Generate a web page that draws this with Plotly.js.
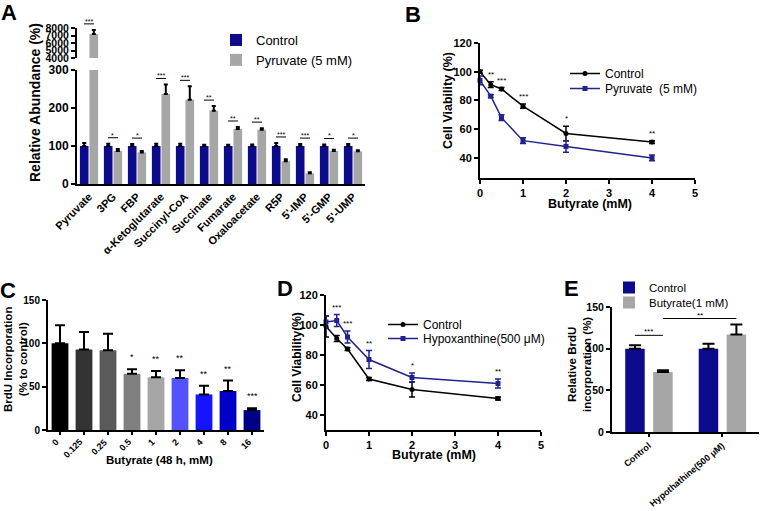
<!DOCTYPE html>
<html>
<head>
<meta charset="utf-8">
<script src="https://cdn.plot.ly/plotly-3.0.1.min.js"></script>
<style>body{margin:0;background:#fff;} #fig{width:760px;height:511px;}</style>
</head>
<body>
<div id="fig"></div>
<script>
// ---- Panel A: metabolite abundance ----
var metabolites = ["Pyruvate", "3PG", "FBP", "α-Ketoglutarate", "Succinyl-CoA", "Succinate",
                   "Fumarate", "Oxaloacetate", "R5P", "5'-IMP", "5'-GMP", "5'-UMP"];
var ctrlAbund = [100, 100, 100, 100, 100, 100, 100, 100, 100, 100, 100, 100];
var ctrlAbundErr = [8, 6, 5, 6, 6, 3, 3, 4, 8, 5, 4, 5];
var pyrAbund = [7200, 87, 83, 237, 222, 193, 145, 143, 60, 28, 87, 86];
var pyrAbundErr = [550, 5, 4, 25, 35, 12, 5, 4, 5, 3, 3, 3];
var sigA = ["***", "*", "*", "***", "***", "**", "**", "**", "***", "***", "*", "*"];
var ticksALow = [0, 100, 200, 300];
var ticksAHigh = [4000, 5000, 6000, 7000, 8000];

// ---- Panel B: viability with pyruvate ----
var butyrateB = [0, 0.25, 0.5, 1, 2, 4];
var ctrlViabB = [100, 91, 88, 76, 57, 51];
var ctrlViabBErr = [1, 2, 1, 1.5, 5, 1];
var pyrViabB = [94, 83, 68, 52, 48, 40];
var pyrViabBErr = [3, 1, 2, 2, 4, 2];
var sigB = ["", "**", "***", "***", "*", "**"];

// ---- Panel C: BrdU vs butyrate dose ----
var doseC = ["0", "0.125", "0.25", "0.5", "1", "2", "4", "8", "16"];
var brduC = [100, 93, 92, 65, 61, 60, 41, 45, 23];
var brduCErr = [21, 20, 19, 5, 7, 9, 10, 12, 2];
var sigC = ["", "", "", "*", "**", "**", "**", "**", "***"];
var colorsC = ["#000000", "#333333", "#5a5a5a", "#808080", "#a6a6a6", "#5252ff", "#1414ff", "#0000c8", "#000084"];

// ---- Panel D: viability with hypoxanthine ----
var butyrateD = [0, 0.25, 0.5, 1, 2, 4];
var ctrlViabD = [99, 91, 84, 64, 57, 51];
var ctrlViabDErr = [7, 2, 1, 1, 5, 1];
var hypoViabD = [102, 103, 92, 77, 65, 61];
var hypoViabDErr = [4, 4, 4, 6, 3, 3];
var sigD = ["", "***", "***", "**", "*", "**"];

// ---- Panel E: BrdU with hypoxanthine ----
var groupsE = ["Control", "Hypothathine(500 μM)"];
var ctrlBrduE = [100, 100];
var ctrlBrduEErr = [4, 6];
var butBrduE = [72, 117];
var butBrduEErr = [2, 12];

var NAVY = "#0b0b8c", GREY = "#a6a6a6", LINE_NAVY = "#22228e";
var FONT = "Liberation Sans, Arial, sans-serif";
var W = 760, H = 511;

// panel boxes in pixels
function domX(a, b) { return [a / W, b / W]; }
function domY(bottom, top) { return [1 - bottom / H, 1 - top / H]; }
function toPaper(v, dom, rng) { return dom[0] + (v - rng[0]) / (rng[1] - rng[0]) * (dom[1] - dom[0]); }

var A = {x: domX(77, 365), yLow: domY(184, 70), yHigh: domY(58, 28), xr: [-0.5, 11.5], rLow: [0, 300], rHigh: [4000, 8000]};
var B = {x: domX(480, 695), y: domY(178, 43), xr: [0, 5], yr: [26, 120]};
var C = {x: domX(48, 264), y: domY(430, 300), xr: [-0.5, 8.5], yr: [0, 150]};
var D = {x: domX(326, 541), y: domY(430, 295), xr: [0, 5], yr: [30, 120]};
var E = {x: domX(612, 759), y: domY(432, 307), xr: [-0.5, 1.5], yr: [0, 150]};

// dose labels are numeric strings, so place them by index on a linear axis
var doseIdx = doseC.map(function (d, i) { return i; });

function upErr(arr, th, w) {
  return {type: "data", array: arr, symmetric: false, arrayminus: arr.map(function () { return 0; }),
          color: "#000", thickness: th, width: w};
}
function symErr(arr, col) {
  return {type: "data", array: arr, color: col, thickness: 1.5, width: 3};
}

var data = [
  // A
  {type: "bar", x: metabolites, y: ctrlAbund, name: "Control", marker: {color: NAVY},
   width: 0.36, offset: -0.38, error_y: upErr(ctrlAbundErr, 2, 2), xaxis: "x", yaxis: "y", legend: "legend"},
  {type: "bar", x: metabolites, y: pyrAbund, name: "Pyruvate (5 mM)", marker: {color: GREY},
   width: 0.36, offset: 0.02, error_y: upErr(pyrAbundErr, 2, 2), xaxis: "x", yaxis: "y", legend: "legend"},
  {type: "bar", x: metabolites, y: pyrAbund, name: "Pyruvate (5 mM)", marker: {color: GREY}, showlegend: false,
   width: 0.36, offset: 0.02, error_y: upErr(pyrAbundErr, 2, 2), xaxis: "x", yaxis: "y2"},
  // B
  {type: "scatter", mode: "lines+markers", x: butyrateB, y: ctrlViabB, name: "Control",
   line: {color: "#000", width: 1.5}, marker: {color: "#000", size: 5, symbol: "circle"},
   error_y: symErr(ctrlViabBErr, "#000"), cliponaxis: false, xaxis: "x2", yaxis: "y3", legend: "legend2"},
  {type: "scatter", mode: "lines+markers", x: butyrateB, y: pyrViabB, name: "Pyruvate  (5 mM)",
   line: {color: LINE_NAVY, width: 1.5}, marker: {color: LINE_NAVY, size: 5, symbol: "square"},
   error_y: symErr(pyrViabBErr, LINE_NAVY), cliponaxis: false, xaxis: "x2", yaxis: "y3", legend: "legend3"},
  // C
  {type: "bar", x: doseIdx, y: brduC, marker: {color: colorsC}, width: 0.7, showlegend: false,
   error_y: upErr(brduCErr, 2, 5), xaxis: "x3", yaxis: "y4"},
  // D
  {type: "scatter", mode: "lines+markers", x: butyrateD, y: ctrlViabD, name: "Control",
   line: {color: "#000", width: 1.5}, marker: {color: "#000", size: 5, symbol: "circle"},
   error_y: symErr(ctrlViabDErr, "#000"), cliponaxis: false, xaxis: "x4", yaxis: "y5", legend: "legend4"},
  {type: "scatter", mode: "lines+markers", x: butyrateD, y: hypoViabD, name: "Hypoxanthine(500 μM)",
   line: {color: LINE_NAVY, width: 1.5}, marker: {color: LINE_NAVY, size: 5, symbol: "square"},
   error_y: symErr(hypoViabDErr, LINE_NAVY), cliponaxis: false, xaxis: "x4", yaxis: "y5", legend: "legend5"},
  // E
  {type: "bar", x: groupsE, y: ctrlBrduE, name: "Control", marker: {color: NAVY},
   width: 0.265, offset: -0.32, error_y: upErr(ctrlBrduEErr, 2, 6), xaxis: "x5", yaxis: "y6", legend: "legend6"},
  {type: "bar", x: groupsE, y: butBrduE, name: "Butyrate(1 mM)", marker: {color: GREY},
   width: 0.265, offset: 0.06, error_y: upErr(butBrduEErr, 2, 6), xaxis: "x5", yaxis: "y6", legend: "legend7"}
];

var annotations = [], shapes = [];
function label(text, px, py, size, angle) {
  annotations.push({text: text, x: px / W, y: 1 - py / H, xref: "paper", yref: "paper",
    xanchor: "center", yanchor: "middle", showarrow: false, textangle: angle || 0,
    font: {family: FONT, size: size, color: "#000", weight: "bold"}});
}
function star(text, xp, yp, size) {
  annotations.push({text: text, x: xp, y: yp, xref: "paper", yref: "paper", xanchor: "center",
    yanchor: "bottom", yshift: -3, showarrow: false, font: {family: FONT, size: size || 8, color: "#000"}});
}
function bar(x0, x1, yp) {
  shapes.push({type: "line", xref: "paper", yref: "paper", x0: x0, x1: x1, y0: yp, y1: yp,
    line: {color: "#000", width: 1}});
}

// panel letters
label("A", 9, 12, 22); label("B", 413, 14, 22); label("C", 8, 290, 22);
label("D", 285, 288, 22); label("E", 571, 288, 22);

// axis titles
label("Relative Abundance (%)", 35, 103, 14, -90);
label("Cell Viability (%)", 448, 100, 12.5, -90);
label("Butyrate (mM)", 590, 204, 12.5);
label("BrdU Incorporation<br>(% to control)", 15, 360, 11.5, -90);
label("Butyrate (48 h, mM)", 159, 460, 11.5);
label("Cell Viability(%)", 297, 357, 12, -90);
label("Butyrate (mM)", 434, 455, 12.5);
label("Relative BrdU<br>incorporation (%)", 579, 365, 11.5, -90);

// slanted dose labels under panel C
doseC.forEach(function (d, i) {
  annotations.push({text: d, x: toPaper(i, C.x, C.xr), y: C.y[0], xref: "paper", yref: "paper",
    xanchor: "right", yanchor: "top", xshift: 4, yshift: -4, textangle: -45, showarrow: false,
    font: {family: FONT, size: 9, color: "#000", weight: "bold"}});
});

// significance marks, panel A
metabolites.forEach(function (m, i) {
  var top = Math.max(ctrlAbund[i] + ctrlAbundErr[i], pyrAbund[i] + pyrAbundErr[i]);
  var yp = top > 300 ? toPaper(top, A.yHigh, A.rHigh) : toPaper(top, A.yLow, A.rLow);
  yp += 6 / H;
  var xc = toPaper(i, A.x, A.xr);
  bar(xc - 5 / W, xc + 5 / W, yp);
  star(sigA[i], xc, yp, 7);
});
// panel B / D: above the higher series
butyrateB.forEach(function (b, i) {
  if (!sigB[i]) return;
  var top = ctrlViabB[i] + ctrlViabBErr[i];
  star(sigB[i], toPaper(b, B.x, B.xr), toPaper(top, B.y, B.yr) + 4 / H, 8);
});
butyrateD.forEach(function (b, i) {
  if (!sigD[i]) return;
  var top = Math.max(ctrlViabD[i] + ctrlViabDErr[i], hypoViabD[i] + hypoViabDErr[i]);
  star(sigD[i], toPaper(b, D.x, D.xr), toPaper(top, D.y, D.yr) + 4 / H, 8);
});
// panel C
doseC.forEach(function (d, i) {
  if (!sigC[i]) return;
  var top = brduC[i] + brduCErr[i];
  star(sigC[i], toPaper(i, C.x, C.xr), toPaper(top, C.y, C.yr) + 8 / H, 9);
});
// panel E: between bar centres
var cNavy = toPaper(0 - 0.32 + 0.1325, E.x, E.xr), cGrey = toPaper(0 + 0.06 + 0.1325, E.x, E.xr);
var hGrey = toPaper(1 + 0.06 + 0.1325, E.x, E.xr);
var y1 = toPaper(Math.max(ctrlBrduE[0] + ctrlBrduEErr[0], butBrduE[0] + butBrduEErr[0]), E.y, E.yr) + 10 / H;
var y2 = toPaper(butBrduE[1] + butBrduEErr[1], E.y, E.yr) + 6 / H;
bar(cNavy, cGrey, y1); star("***", (cNavy + cGrey) / 2, y1, 8);
bar(cGrey, hGrey, y2); star("**", (cGrey + hGrey) / 2, y2, 8);

function yAx(dom, rng, anchor, ticks, size) {
  var ax = {domain: dom, range: rng, anchor: anchor, showline: true, linewidth: 2, linecolor: "#000",
    ticks: "outside", ticklen: 4, tickwidth: 2, tickcolor: "#000", showgrid: false, zeroline: false,
    fixedrange: true, tickfont: {family: FONT, size: size || 11, color: "#000", weight: "bold"}};
  if (ticks) { ax.tickmode = "array"; ax.tickvals = ticks; }
  return ax;
}
function xAx(dom, rng, anchor, angle, size, ticklen, type) {
  return {type: type || "linear", domain: dom, range: rng, anchor: anchor, showline: true, linewidth: 2,
    linecolor: "#000", ticks: "outside", ticklen: ticklen, tickwidth: 2, tickcolor: "#000",
    showgrid: false, zeroline: false, tickangle: angle, fixedrange: true,
    tickfont: {family: FONT, size: size, color: "#000", weight: "bold"}};
}

// one legend per entry so each row sits where the figure has it
function legendAt(px, py, size) {
  return {x: px / W, y: 1 - py / H, xanchor: "left", yanchor: "top", bgcolor: "rgba(0,0,0,0)",
    font: {family: FONT, size: size, color: "#000"}, traceorder: "normal"};
}

var layout = {
  width: W, height: H, margin: {l: 0, r: 0, t: 0, b: 0},
  paper_bgcolor: "#fff", plot_bgcolor: "rgba(0,0,0,0)", showlegend: true,
  font: {family: FONT, color: "#000"},
  xaxis: xAx(A.x, A.xr, "y", -45, 11, 0, "category"),
  yaxis: yAx(A.yLow, A.rLow, "x", ticksALow, 12),
  yaxis2: yAx(A.yHigh, A.rHigh, "x", ticksAHigh, 10.5),
  xaxis2: Object.assign(xAx(B.x, B.xr, "y3", 0, 11, 4), {dtick: 1}),
  yaxis3: Object.assign(yAx(B.y, B.yr, "x2"), {dtick: 20}),
  xaxis3: Object.assign(xAx(C.x, C.xr, "y4", 0, 9, 3), {tickmode: "array", tickvals: doseIdx, showticklabels: false}),
  yaxis4: Object.assign(yAx(C.y, C.yr, "x3", null, 10), {dtick: 50}),
  xaxis4: Object.assign(xAx(D.x, D.xr, "y5", 0, 11, 4), {dtick: 1}),
  yaxis5: Object.assign(yAx(D.y, D.yr, "x4"), {dtick: 20}),
  xaxis5: xAx(E.x, E.xr, "y6", -40, 9, 3, "category"),
  yaxis6: Object.assign(yAx(E.y, E.yr, "x5", null, 10.5), {dtick: 50}),
  legend: legendAt(216, 25, 13),
  legend2: legendAt(565, 59, 12),
  legend3: legendAt(565, 74, 12),
  legend4: legendAt(383, 310, 12),
  legend5: legendAt(383, 324, 12),
  legend6: legendAt(609, 273, 11.5),
  legend7: legendAt(609, 288, 11.5),
  annotations: annotations,
  shapes: shapes
};

Plotly.newPlot("fig", data, layout, {displayModeBar: false, staticPlot: true});
</script>
</body>
</html>
